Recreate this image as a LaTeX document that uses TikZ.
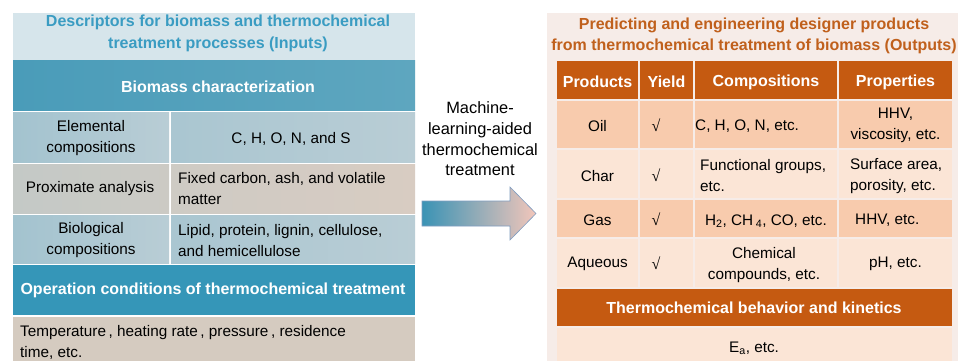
\documentclass[tikz,border=0pt]{standalone}
\usepackage{fontspec}
\setmainfont{Liberation Sans}
\newfontfamily\chkfont{Liberation Serif}
\definecolor{ltitlebg}{HTML}{D6E5EB}
\definecolor{lheadL}{HTML}{4A9CB9}
\definecolor{lheadR}{HTML}{5EA6BF}
\definecolor{lrowAL}{HTML}{A3C3CF}
\definecolor{lrowAR}{HTML}{B9CDD5}
\definecolor{lrowBL}{HTML}{C4C9C6}
\definecolor{lrowBR}{HTML}{D8CCC2}
\definecolor{ophead}{HTML}{3596B8}
\definecolor{lbottom}{HTML}{D5CBC0}
\definecolor{ltitlecol}{HTML}{3A9CC2}
\definecolor{rbg}{HTML}{F6ECE8}
\definecolor{rorange}{HTML}{C55A11}
\definecolor{peach}{HTML}{F8CBAD}
\definecolor{lpeach}{HTML}{FBE5D6}
\definecolor{rtitlecol}{HTML}{C0601C}
\definecolor{arrowL}{HTML}{3A93B5}
\definecolor{arrowR}{HTML}{F2C6BA}
\definecolor{arrowEdge}{HTML}{7F9CC0}
\tikzset{
  body/.style={font=\fontsize{15.3}{21}\selectfont, inner sep=0pt, text=black},
  hd/.style={font=\fontsize{16}{21}\selectfont\bfseries, inner sep=0pt, text=white},
  ttl/.style={font=\fontsize{16}{21.5}\selectfont\bfseries, inner sep=0pt, align=center},
  chk/.style={font=\chkfont\fontsize{16}{21}\selectfont, inner sep=0pt, text=black},
}
\begin{document}
\begin{tikzpicture}[x=1pt,y=-1pt]
\useasboundingbox (0,0) rectangle (958,361);
\fill[white] (0,0) rectangle (958,361);
% ---------- left panel ----------
\fill[ltitlebg] (13,13) rectangle (415,61);
\node[ttl, text=ltitlecol] (ltitle) at (218,33.5) {Descriptors for biomass and thermochemical\\treatment processes (Inputs)};
\shade[left color=lheadL, right color=lheadR] (13,61) rectangle (415,110);
\node[hd] (bchar) at (218,87) {Biomass characterization};
% row 1
\shade[left color=lrowAL, right color=lrowAR] (13,112) rectangle (169,162);
\shade[left color=lrowAL!70!lrowAR, right color=lrowAR] (171,112) rectangle (415,162);
\node[body, align=center] (r1a) at (91,138.5) {Elemental\\compositions};
\node[body] (r1b) at (291,139) {C, H, O, N, and S};
% row 2
\shade[left color=lrowBL, right color=lrowBL!60!lrowBR] (13,164) rectangle (169,213);
\shade[left color=lrowBL!50!lrowBR, right color=lrowBR] (171,164) rectangle (415,213);
\node[body] (r2a) at (90,189) {Proximate analysis};
\node[body, align=left, anchor=west] (r2b) at (178,189) {Fixed carbon, ash, and volatile\\matter};
% row 3
\shade[left color=lrowAL, right color=lrowAR] (13,215) rectangle (169,263);
\shade[left color=lrowAL!70!lrowAR, right color=lrowAR] (171,215) rectangle (415,263);
\node[body, align=center] (r3a) at (91,240.5) {Biological\\compositions};
\node[body, align=left, anchor=west] (r3b) at (178,240.5) {Lipid, protein, lignin, cellulose,\\and hemicellulose};
% operation
\fill[ophead] (13,264.5) rectangle (415,315);
\node[hd] (ophd) at (213,290) {Operation conditions of thermochemical treatment};
\fill[lbottom] (13,317) rectangle (415,361);
\node[body, align=left, anchor=west] (opbody) at (20,342.5) {Temperature\,, heating rate\,, pressure\,, residence\\time, etc.};
% ---------- arrow ----------
\node[font=\fontsize{16.4}{20.7}\selectfont, align=center, inner sep=0pt] (mlt) at (480,139) {Machine-\\learning-aided\\thermochemical\\treatment};
\shadedraw[left color=arrowL, right color=arrowR, draw=arrowEdge, line width=0.6pt]
  (422,201) -- (510,201) -- (510,187) -- (536,213.5) -- (510,240) -- (510,226) -- (422,226) -- cycle;
\coordinate (arrowtip) at (536,213.5);
% ---------- right panel ----------
\fill[rbg] (547,13) rectangle (958,361);
\node[ttl, text=rtitlecol] (rtitle) at (754,36) {Predicting and engineering designer products\\from thermochemical treatment of biomass (Outputs)};
% header
\fill[rorange] (557,61) rectangle (638,99);
\fill[rorange] (640,61) rectangle (693,99);
\fill[rorange] (695,61) rectangle (837,99);
\fill[rorange] (839,61) rectangle (952,99);
\node[hd] (hp) at (597.5,82) {Products};
\node[hd] (hy) at (666.5,82) {Yield};
\node[hd] (hc) at (766,82) {Compositions};
\node[hd] (hpr) at (895.5,82) {Properties};
% Oil
\foreach \a/\b in {557/638,640/693,695/837,839/952}{\fill[peach] (\a,101) rectangle (\b,148);}
\node[body] (oil) at (597.5,126) {Oil};
\node[chk] (oily) at (656,125) {√};
\node[body, anchor=west] (oilc) at (695,126) {C, H, O, N, etc.};
\node[body, align=center] (oilp) at (895.5,125) {HHV,\\viscosity, etc.};
% Char
\foreach \a/\b in {557/638,640/693,695/837,839/952}{\fill[lpeach] (\a,150) rectangle (\b,198);}
\node[body] (char) at (597.5,176) {Char};
\node[chk] (chary) at (656,175) {√};
\node[body, align=left, anchor=west] (charc) at (700,176) {Functional groups,\\etc.};
\node[body, align=left, anchor=west] (charp) at (850,176) {Surface area,\\porosity, etc.};
% Gas
\foreach \a/\b in {557/638,640/693,695/837,839/952}{\fill[peach] (\a,200) rectangle (\b,237);}
\node[body] (gas) at (597.5,220) {Gas};
\node[chk] (gasy) at (656,219) {√};
\node[body] (gasc) at (766,221) {H\textsubscript{2}, CH\,\textsubscript{4}, CO, etc.};
\node[body, anchor=west] (gasp) at (855,220) {HHV, etc.};
% Aqueous
\foreach \a/\b in {557/638,640/693,695/837,839/952}{\fill[lpeach] (\a,239) rectangle (\b,287);}
\node[body] (aq) at (597.5,264) {Aqueous};
\node[chk] (aqy) at (656,263) {√};
\node[body, align=center] (aqc) at (764,265) {Chemical\\compounds, etc.};
\node[body] (aqp) at (895.5,264) {pH, etc.};
% thermo
\fill[rorange] (557,289) rectangle (952,326);
\node[hd] (thd) at (754,308) {Thermochemical behavior and kinetics};
\fill[lpeach] (557,328) rectangle (952,361);
\node[body] (ea) at (754,348) {E\textsubscript{a}, etc.};
\end{tikzpicture}
\end{document}
